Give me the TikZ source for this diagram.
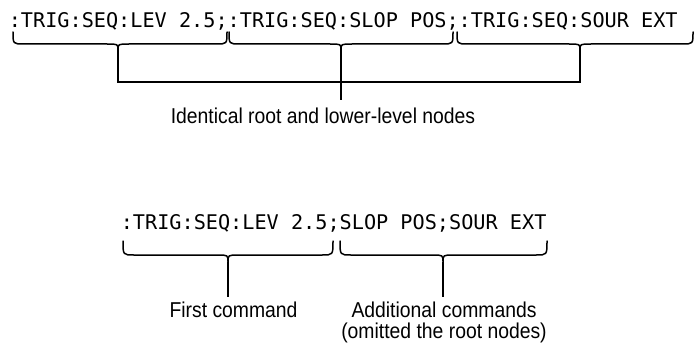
\documentclass[tikz,border=0pt]{standalone}
\usepackage{fontspec}
\setmainfont{Liberation Sans}[FakeStretch=0.9]
\newfontfamily\cmdfont{DejaVu Sans Mono}
\tikzset{
  bracestyle/.style={line width=1.5pt, line cap=round, line join=round},
  conn/.style={line width=2pt},
  cmd/.style={inner sep=0pt, anchor=base west, font=\cmdfont\fontsize{20.2}{24}\selectfont},
  lbl/.style={inner sep=0pt, anchor=base, font=\fontsize{21.5}{21}\selectfont, align=center}
}
\newcommand\mybrace[6]{%
  \draw[bracestyle] (#1,#4) .. controls (#1,#5) .. (#1+11,#5) -- (#3-11,#5)
    .. controls (#3,#5) .. (#3,#6) .. controls (#3,#5) .. (#3+11,#5)
    -- (#2-11,#5) .. controls (#2,#5) .. (#2,#4);}
\begin{document}
\begin{tikzpicture}[x=1pt,y=-1pt]
\useasboundingbox (0,0) rectangle (695,345);
% top
\node[cmd] (cmdtop) at (8.6,28) {:TRIG:SEQ:LEV 2.5;:TRIG:SEQ:SLOP POS;:TRIG:SEQ:SOUR EXT};
\mybrace{13}{227}{118}{32}{44}{50}
\mybrace{229}{453}{341}{32}{44}{50}
\mybrace{457}{693}{580}{32}{44}{50}
\coordinate (t1) at (118,50);
\coordinate (t2) at (341,50);
\coordinate (t3) at (580,50);
\coordinate (h1) at (118,82);
\coordinate (h3) at (580,82);
\coordinate (h2) at (341,100);
\draw[conn] (t1) -- (h1) -- (h3) -- (t3);
\draw[conn] (t2) -- (h2);
\node[lbl] (lblsame) at (323,123) {Identical root and lower-level nodes};
% bottom
\node[cmd] (cmdbot) at (120.6,229) {:TRIG:SEQ:LEV 2.5;SLOP POS;SOUR EXT};
\mybrace{123}{333}{228}{241}{255}{262}
\mybrace{340}{547}{443}{241}{255}{262}
\coordinate (ta) at (228,262);
\coordinate (tb) at (443,262);
\coordinate (ea) at (228,297);
\coordinate (eb) at (443,297);
\draw[conn] (ta) -- (ea);
\draw[conn] (tb) -- (eb);
\node[lbl] (lblfirst) at (233.5,317) {First command};
\node[lbl] (lbladd) at (444,338) {Additional commands\\(omitted the root nodes)};
\end{tikzpicture}
\end{document}
